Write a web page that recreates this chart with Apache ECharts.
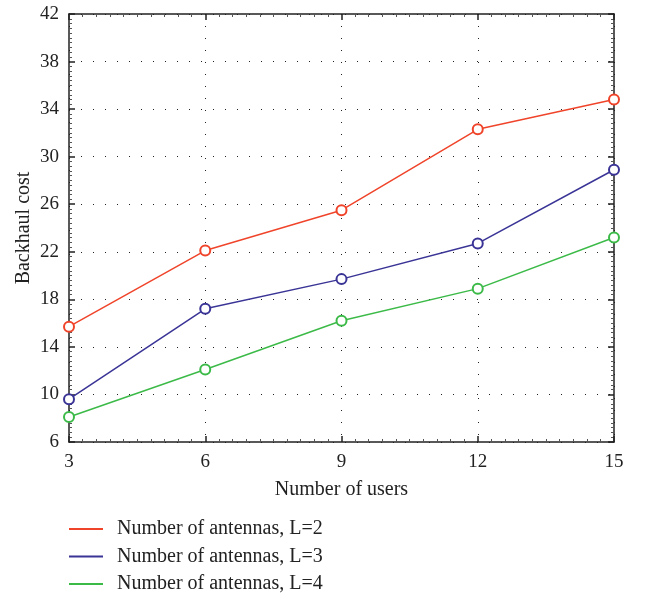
<!DOCTYPE html>
<html>
<head>
<meta charset="utf-8">
<script src="https://cdn.jsdelivr.net/npm/echarts@6/dist/echarts.min.js"></script>
<style>
  html, body { margin: 0; padding: 0; background: #fff; }
  #chart { width: 649px; height: 595px; }
</style>
</head>
<body>
<div id="chart"></div>
<script>
// data
var users = [3, 6, 9, 12, 15];
var costL2 = [15.7, 22.1, 25.5, 32.3, 34.8];
var costL3 = [9.6, 17.2, 19.7, 22.7, 28.9];
var costL4 = [8.1, 12.1, 16.2, 18.9, 23.2];
var seriesNames = ['Number of antennas, L=2', 'Number of antennas, L=3', 'Number of antennas, L=4'];
var colors = ['#f0442a', '#3a3496', '#3cba48'];

var font = 'Liberation Serif';

function pairs(ys) {
  return users.map(function (x, i) { return [x, ys[i]]; });
}

var chart = echarts.init(document.getElementById('chart'));

function axisLook(show, margin) {
  return {
    axisLine: { show: true, lineStyle: { color: '#222', width: 1.5 } },
    axisTick: { show: true, inside: true, length: 6, lineStyle: { color: '#222', width: 1.5 } },
    minorTick: { show: true, splitNumber: 10, length: 3, lineStyle: { color: '#555' } },
    axisLabel: { show: show, color: '#222', fontFamily: font, fontSize: 19, margin: margin || 8 }
  };
}

var nameStyle = { fontFamily: font, fontSize: 20, color: '#222' };
var gridDots = { show: true, lineStyle: { color: '#222', type: [1, 11], width: 1 } };

var option = {
  animation: false,
  color: colors,
  grid: { left: 69, right: 35, top: 14, bottom: 153, containLabel: false, outerBoundsMode: 'none' },
  legend: {
    orient: 'vertical',
    left: 69,
    top: 519,
    height: 76,
    padding: 0,
    itemWidth: 34,
    itemHeight: 2,
    itemGap: 7.5,
    icon: 'rect',
    textStyle: { fontFamily: font, fontSize: 20, color: '#222', lineHeight: 20, padding: [0, 0, 0, 9] },
    data: seriesNames
  },
  xAxis: [
    Object.assign({
      type: 'value', min: 3, max: 15, interval: 3,
      name: 'Number of users', nameLocation: 'middle', nameGap: 38,
      nameTextStyle: nameStyle,
      splitLine: gridDots
    }, axisLook(true, 11)),
    Object.assign({
      type: 'value', min: 3, max: 15, interval: 3, position: 'top',
      splitLine: { show: false }
    }, axisLook(false))
  ],
  yAxis: [
    Object.assign({
      type: 'value', min: 6, max: 42, interval: 4,
      name: 'Backhaul cost', nameLocation: 'middle', nameGap: 35,
      nameMoveOverlap: false,
      nameTextStyle: nameStyle,
      splitLine: gridDots
    }, axisLook(true, 10)),
    Object.assign({
      type: 'value', min: 6, max: 42, interval: 4, position: 'right',
      splitLine: { show: false }
    }, axisLook(false))
  ],
  series: [costL2, costL3, costL4].map(function (ys, i) {
    return {
      name: seriesNames[i],
      type: 'line',
      data: pairs(ys),
      symbol: 'emptyCircle',
      symbolSize: 10,
      lineStyle: { width: 1.5, color: colors[i] },
      itemStyle: { color: colors[i], borderWidth: 1.3 },
      clip: false
    };
  })
};

chart.setOption(option);
</script>
</body>
</html>
